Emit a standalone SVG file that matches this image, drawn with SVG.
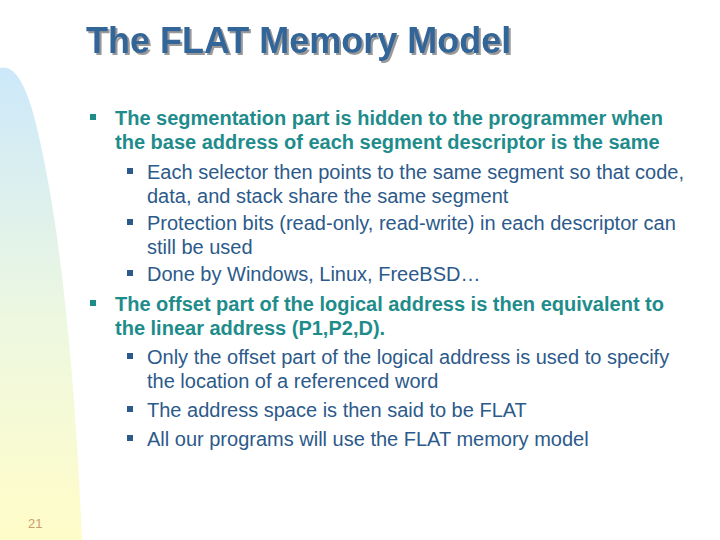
<svg xmlns="http://www.w3.org/2000/svg" width="720" height="540" viewBox="0 0 720 540">
<defs>
<linearGradient id="bg" x1="0" y1="0" x2="0" y2="1">
<stop offset="0" stop-color="#cce8fa"/><stop offset="0.55" stop-color="#eef8e0"/><stop offset="1" stop-color="#fffcc8"/>
</linearGradient>
<filter id="sh" x="-5%" y="-20%" width="110%" height="140%">
<feDropShadow dx="2" dy="2" stdDeviation="0.4" flood-color="#999999"/>
</filter>
<style>
.t{font-family:"Liberation Sans",Arial,sans-serif;font-size:20px}
.b{font-weight:bold;fill:#1f8c8c}
.n{fill:#2c5a8a}
.sq1{fill:#1f8c8c}.sq2{fill:#2c5a8a}
</style>
</defs>
<rect width="720" height="540" fill="#fff"/>
<path d="M0,68 Q20,62 35,120 Q70,260 82,540 L0,540 Z" fill="url(#bg)"/>
<text x="86" y="53" fill="#336699" filter="url(#sh)" font-family="Liberation Sans,Arial,sans-serif" font-size="36" font-weight="bold">The FLAT Memory Model</text>
<g class="t">
<rect class="sq1" x="90" y="114" width="6" height="6"/>
<text class="b" x="115" y="125">The segmentation part is hidden to the programmer when</text>
<text class="b" x="115" y="149">the base address of each segment descriptor is the same</text>
<rect class="sq2" x="127" y="168" width="6" height="6"/>
<text class="n" x="147" y="179">Each selector then points to the same segment so that code,</text>
<text class="n" x="147" y="203">data, and stack share the same segment</text>
<rect class="sq2" x="127" y="219" width="6" height="6"/>
<text class="n" x="147" y="230">Protection bits (read-only, read-write) in each descriptor can</text>
<text class="n" x="147" y="254">still be used</text>
<rect class="sq2" x="127" y="270" width="6" height="6"/>
<text class="n" x="147" y="281">Done by Windows, Linux, FreeBSD…</text>
<rect class="sq1" x="90" y="300" width="6" height="6"/>
<text class="b" x="115" y="311">The offset part of the logical address is then equivalent to</text>
<text class="b" x="115" y="335">the linear address (P1,P2,D).</text>
<rect class="sq2" x="127" y="353" width="6" height="6"/>
<text class="n" x="147" y="364">Only the offset part of the logical address is used to specify</text>
<text class="n" x="147" y="388">the location of a referenced word</text>
<rect class="sq2" x="127" y="406" width="6" height="6"/>
<text class="n" x="147" y="417">The address space is then said to be FLAT</text>
<rect class="sq2" x="127" y="435" width="6" height="6"/>
<text class="n" x="147" y="446">All our programs will use the FLAT memory model</text>
</g>
<text x="28" y="528" font-family="Liberation Sans,Arial,sans-serif" font-size="13" fill="#c8a070">21</text>
</svg>
